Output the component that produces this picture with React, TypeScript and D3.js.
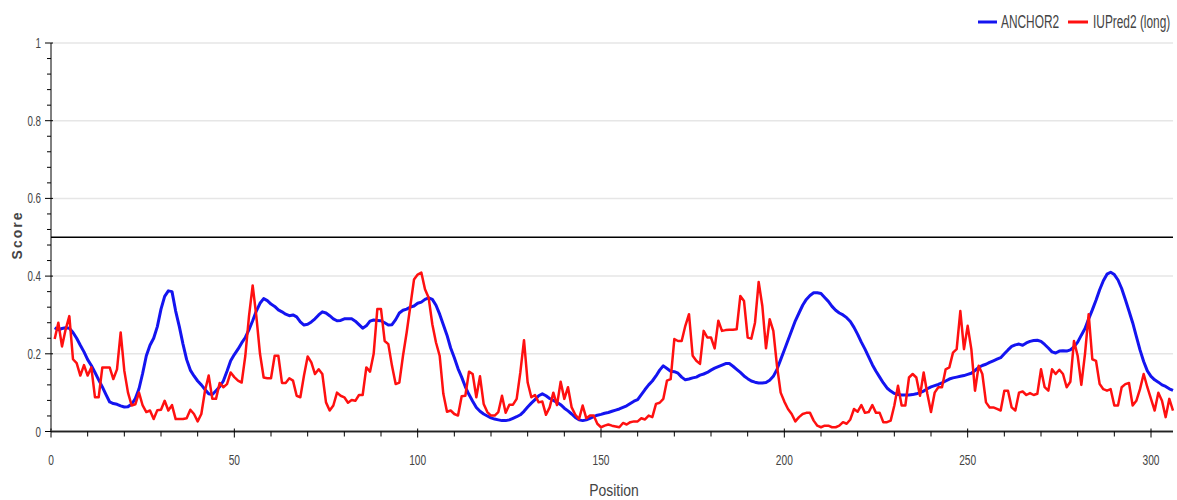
import React from 'react';
import * as d3 from 'd3';

// positions 1..306
const anchor2 = [
  0.267, 0.262, 0.265, 0.267, 0.266, 0.255, 0.24, 0.222, 0.205, 0.185,
  0.17, 0.152, 0.133, 0.115, 0.095, 0.076, 0.072, 0.07, 0.066, 0.063,
  0.064, 0.07, 0.085, 0.11, 0.15, 0.195, 0.222, 0.24, 0.27, 0.315,
  0.348, 0.362, 0.36, 0.31, 0.27, 0.225, 0.185, 0.158, 0.143, 0.13,
  0.12, 0.108, 0.097, 0.095, 0.105, 0.115, 0.13, 0.155, 0.182, 0.198,
  0.212, 0.228, 0.242, 0.262, 0.285, 0.31, 0.33, 0.342, 0.337, 0.328,
  0.322, 0.313, 0.308, 0.302, 0.298, 0.3, 0.295, 0.282, 0.274, 0.276,
  0.282, 0.29, 0.3, 0.308, 0.305, 0.298, 0.29, 0.285, 0.286, 0.29,
  0.29, 0.29, 0.284, 0.275, 0.266, 0.272, 0.284, 0.287, 0.286, 0.285,
  0.28, 0.274, 0.275, 0.288, 0.305, 0.312, 0.315, 0.32, 0.323, 0.33,
  0.333, 0.34, 0.344, 0.34, 0.325, 0.302, 0.275, 0.248, 0.215, 0.19,
  0.162, 0.14, 0.115, 0.095, 0.078, 0.062, 0.052, 0.045, 0.04, 0.035,
  0.032, 0.03, 0.028, 0.028, 0.03, 0.034, 0.038, 0.043, 0.052, 0.063,
  0.073, 0.082, 0.092, 0.097, 0.092, 0.085, 0.08, 0.075, 0.069, 0.06,
  0.053, 0.045, 0.036, 0.03, 0.028, 0.03, 0.034, 0.038, 0.042, 0.044,
  0.047, 0.049, 0.052, 0.055, 0.058, 0.062, 0.066, 0.072, 0.078, 0.082,
  0.095, 0.108, 0.12, 0.13, 0.143, 0.158, 0.169, 0.162, 0.155, 0.154,
  0.15, 0.14, 0.133, 0.135, 0.138, 0.14, 0.145, 0.148, 0.152, 0.158,
  0.163, 0.167, 0.171, 0.175, 0.175, 0.168, 0.16, 0.152, 0.143, 0.136,
  0.13, 0.127, 0.125, 0.125, 0.126, 0.132, 0.142, 0.16, 0.185, 0.21,
  0.235, 0.26, 0.285, 0.305, 0.325, 0.34, 0.35, 0.357, 0.357, 0.355,
  0.345, 0.335, 0.322, 0.312, 0.305, 0.3, 0.293, 0.283, 0.268, 0.25,
  0.23, 0.212, 0.192, 0.172, 0.155, 0.14, 0.125, 0.112, 0.104, 0.098,
  0.095, 0.094, 0.094, 0.094, 0.095, 0.097, 0.1, 0.104, 0.11, 0.115,
  0.118, 0.121, 0.125, 0.13, 0.135, 0.138, 0.14, 0.142, 0.144, 0.147,
  0.15, 0.157, 0.165, 0.17, 0.173, 0.178, 0.182, 0.186, 0.19, 0.2,
  0.21, 0.219, 0.223, 0.225, 0.222, 0.228, 0.232, 0.234, 0.235, 0.232,
  0.224, 0.215, 0.205, 0.202, 0.207, 0.208, 0.207, 0.21, 0.218, 0.23,
  0.248, 0.265, 0.29, 0.313, 0.338, 0.365, 0.388, 0.405, 0.41, 0.404,
  0.39, 0.368, 0.34, 0.31, 0.28, 0.245, 0.21, 0.18, 0.156, 0.142,
  0.133, 0.127, 0.12, 0.116, 0.11, 0.106,
];

const iupredLong = [
  0.238, 0.28, 0.219, 0.263, 0.297, 0.186, 0.176, 0.144, 0.171, 0.144,
  0.165, 0.088, 0.088, 0.165, 0.165, 0.165, 0.135, 0.16, 0.255, 0.156,
  0.1, 0.067, 0.07, 0.1, 0.067, 0.05, 0.054, 0.032, 0.055, 0.056,
  0.079, 0.054, 0.068, 0.032, 0.032, 0.032, 0.034, 0.056, 0.045, 0.026,
  0.045, 0.105, 0.144, 0.084, 0.084, 0.125, 0.114, 0.122, 0.152, 0.14,
  0.131, 0.126, 0.195, 0.297, 0.376, 0.297, 0.2, 0.139, 0.137, 0.137,
  0.195, 0.195, 0.125, 0.125, 0.137, 0.131, 0.092, 0.088, 0.144, 0.193,
  0.178, 0.148, 0.16, 0.148, 0.075, 0.054, 0.067, 0.1, 0.092, 0.088,
  0.074, 0.081, 0.079, 0.094, 0.094, 0.165, 0.154, 0.2, 0.315, 0.315,
  0.233, 0.225, 0.169, 0.122, 0.126, 0.195, 0.255, 0.323, 0.391, 0.404,
  0.409, 0.366, 0.344, 0.276, 0.229, 0.195, 0.097, 0.051, 0.054, 0.045,
  0.041, 0.091, 0.092, 0.154, 0.148, 0.088, 0.142, 0.071, 0.05, 0.041,
  0.041, 0.05, 0.092, 0.048, 0.069, 0.069, 0.084, 0.152, 0.235, 0.126,
  0.088, 0.094, 0.075, 0.077, 0.043, 0.062, 0.1, 0.068, 0.128, 0.084,
  0.114, 0.062, 0.043, 0.032, 0.067, 0.034, 0.041, 0.041, 0.02, 0.011,
  0.015, 0.018, 0.015, 0.013, 0.011, 0.022, 0.018, 0.024, 0.026, 0.026,
  0.034, 0.031, 0.041, 0.037, 0.071, 0.074, 0.084, 0.131, 0.135, 0.238,
  0.233, 0.233, 0.272, 0.302, 0.195, 0.182, 0.174, 0.259, 0.242, 0.242,
  0.214, 0.285, 0.259, 0.261, 0.262, 0.262, 0.263, 0.349, 0.336, 0.242,
  0.239, 0.28, 0.385, 0.323, 0.214, 0.289, 0.259, 0.169, 0.1, 0.077,
  0.058, 0.045, 0.026, 0.037, 0.045, 0.048, 0.048, 0.028, 0.015, 0.011,
  0.015, 0.015, 0.011, 0.011, 0.015, 0.024, 0.02, 0.031, 0.058, 0.051,
  0.068, 0.048, 0.05, 0.068, 0.048, 0.048, 0.024, 0.024, 0.028, 0.067,
  0.118, 0.067, 0.067, 0.139, 0.148, 0.139, 0.092, 0.152, 0.097, 0.05,
  0.1, 0.114, 0.114, 0.16, 0.165, 0.203, 0.212, 0.31, 0.212, 0.272,
  0.212, 0.105, 0.169, 0.148, 0.075, 0.062, 0.062, 0.058, 0.054, 0.105,
  0.105, 0.062, 0.054, 0.1, 0.103, 0.094, 0.099, 0.094, 0.097, 0.16,
  0.114, 0.105, 0.16, 0.148, 0.159, 0.148, 0.114, 0.128, 0.233, 0.195,
  0.12, 0.2, 0.302, 0.186, 0.182, 0.122, 0.109, 0.105, 0.109, 0.067,
  0.067, 0.114, 0.122, 0.125, 0.067, 0.079, 0.109, 0.148, 0.114, 0.084,
  0.054, 0.1, 0.079, 0.037, 0.084, 0.054,
];

const xTicks = [0, 50, 100, 150, 200, 250, 300];
const yTicks = [0, 0.2, 0.4, 0.6, 0.8, 1];
const threshold = 0.5;

const series = [
  { name: 'ANCHOR2', values: anchor2, color: '#1414f0', width: 3 },
  { name: 'IUPred2 (long)', values: iupredLong, color: '#ff1010', width: 2.5 },
];

const W = 1177;
const H = 500;
const margin = { top: 43, right: 4, bottom: 68, left: 51 };
const font = "'Liberation Sans', Arial, sans-serif";
const textColor = '#444';

// narrow text: the reference labels are squeezed horizontally
const NText = ({ x, y, sx, size, anchor = 'start', children }: any) => (
  <text
    transform={`translate(${x},${y}) scale(${sx},1)`}
    textAnchor={anchor}
    fontFamily={font}
    fontSize={size}
    fill={textColor}
  >
    {children}
  </text>
);

export default function App() {
  const x = d3.scaleLinear().domain([0, 306]).range([margin.left, W - margin.right]);
  const y = d3.scaleLinear().domain([0, 1]).range([H - margin.bottom - 0.5, margin.top]);

  const line = d3
    .line<number>()
    .x((d, i) => x(i + 1))
    .y((d) => y(d));

  const xMinor = d3.range(0, 307, 10).filter((t) => t % 50 !== 0);
  const yMinor = d3.range(0, 1.001, 0.04).filter((t) => Math.abs(t / 0.2 - Math.round(t / 0.2)) > 0.01);

  const x0 = margin.left;
  const x1 = W - margin.right;
  const yBase = y(0);

  return (
    <svg width={W} height={H} style={{ position: 'absolute', left: 0, top: 0, background: '#fff' }}>
      {/* grid */}
      {yTicks.map((t) => (
        <line key={'g' + t} x1={x0} x2={x1} y1={y(t)} y2={y(t)} stroke="#e6e6e6" strokeWidth={1.5} />
      ))}

      {/* threshold line */}
      <line x1={x0} x2={x1} y1={y(threshold)} y2={y(threshold)} stroke="#000" strokeWidth={1.5} />

      {/* series */}
      {series.map((s) => (
        <path
          key={s.name}
          d={line(s.values) || ''}
          fill="none"
          stroke={s.color}
          strokeWidth={s.width}
          strokeLinejoin="round"
        />
      ))}

      {/* y axis */}
      <line x1={x0} x2={x0} y1={y(1)} y2={yBase} stroke="#000" strokeWidth={1} />
      {yTicks.map((t) => (
        <g key={'yt' + t}>
          <line x1={x0 - 6} x2={x0 + 2} y1={y(t)} y2={y(t)} stroke="#000" />
          <NText x={x0 - 10} y={y(t) + 5} sx={0.7} size={14} anchor="end">
            {d3.format('~g')(t)}
          </NText>
        </g>
      ))}
      {yMinor.map((t) => (
        <line key={'ym' + t} x1={x0 - 4} x2={x0} y1={y(t)} y2={y(t)} stroke="#000" />
      ))}
      <text
        transform={`translate(22,235) rotate(-90)`}
        textAnchor="middle"
        fontFamily={font}
        fontWeight="bold"
        fontSize={14}
        letterSpacing={2}
        fill={textColor}
      >
        Score
      </text>

      {/* x axis */}
      <line x1={x0} x2={x1} y1={yBase} y2={yBase} stroke="#999" strokeWidth={3} />
      <line x1={x0} x2={x1} y1={yBase} y2={yBase} stroke="#222" strokeWidth={1} />
      {xTicks.map((t) => (
        <g key={'xt' + t}>
          <line x1={x(t)} x2={x(t)} y1={yBase - 3} y2={yBase + 6} stroke="#000" />
          <NText x={x(t)} y={465} sx={0.68} size={15} anchor="middle">
            {t}
          </NText>
        </g>
      ))}
      {xMinor.map((t) => (
        <line key={'xm' + t} x1={x(t)} x2={x(t)} y1={yBase} y2={yBase + 5} stroke="#000" />
      ))}
      <NText x={614} y={496} sx={0.82} size={17} anchor="middle">
        Position
      </NText>

      {/* legend */}
      <line x1={978} x2={997} y1={22} y2={22} stroke={series[0].color} strokeWidth={3} />
      <NText x={1001} y={28} sx={0.66} size={18}>
        {series[0].name}
      </NText>
      <line x1={1068} x2={1088} y1={22} y2={22} stroke={series[1].color} strokeWidth={3} />
      <NText x={1093} y={28} sx={0.66} size={18}>
        {series[1].name}
      </NText>
    </svg>
  );
}
